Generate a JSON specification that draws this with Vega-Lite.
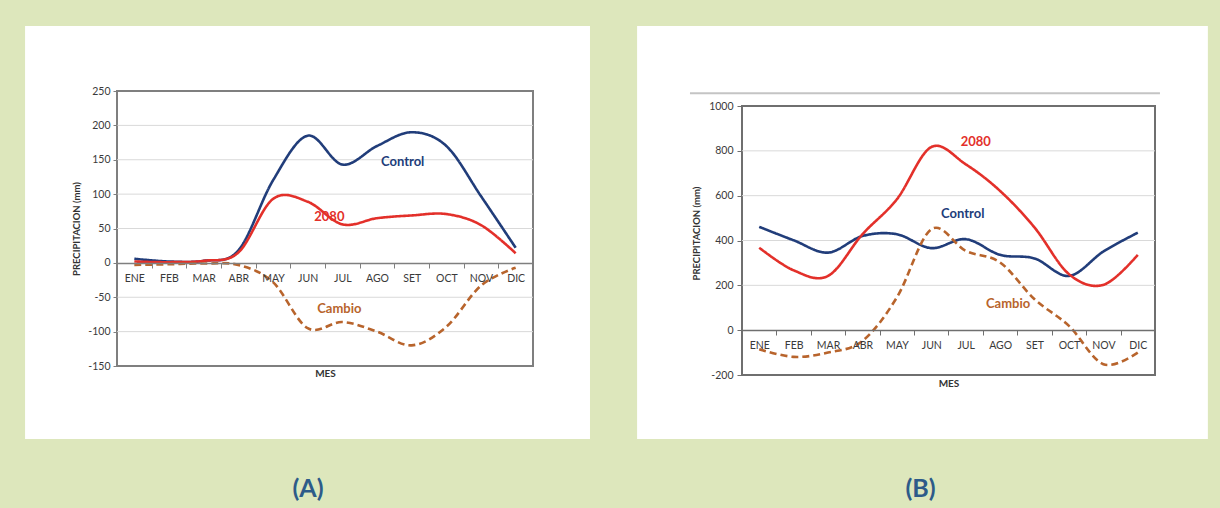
{
  "$schema": "https://vega.github.io/schema/vega-lite/v6.json",
  "background": "#dde7bc",
  "padding": {"left": 25, "top": 25, "right": 12, "bottom": 8},
  "align": "none",
  "bounds": "full",
  "spacing": 47,
  "datasets": {
    "series": [
      {"panel": "A", "mes": "ENE", "serie": "Control", "valor": 6},
      {"panel": "A", "mes": "FEB", "serie": "Control", "valor": 2},
      {"panel": "A", "mes": "MAR", "serie": "Control", "valor": 3},
      {"panel": "A", "mes": "ABR", "serie": "Control", "valor": 18},
      {"panel": "A", "mes": "MAY", "serie": "Control", "valor": 120},
      {"panel": "A", "mes": "JUN", "serie": "Control", "valor": 185},
      {"panel": "A", "mes": "JUL", "serie": "Control", "valor": 143},
      {"panel": "A", "mes": "AGO", "serie": "Control", "valor": 170},
      {"panel": "A", "mes": "SET", "serie": "Control", "valor": 190},
      {"panel": "A", "mes": "OCT", "serie": "Control", "valor": 170},
      {"panel": "A", "mes": "NOV", "serie": "Control", "valor": 97},
      {"panel": "A", "mes": "DIC", "serie": "Control", "valor": 22},
      {"panel": "A", "mes": "ENE", "serie": "2080", "valor": 2},
      {"panel": "A", "mes": "FEB", "serie": "2080", "valor": 1},
      {"panel": "A", "mes": "MAR", "serie": "2080", "valor": 3},
      {"panel": "A", "mes": "ABR", "serie": "2080", "valor": 15},
      {"panel": "A", "mes": "MAY", "serie": "2080", "valor": 93},
      {"panel": "A", "mes": "JUN", "serie": "2080", "valor": 89},
      {"panel": "A", "mes": "JUL", "serie": "2080", "valor": 56},
      {"panel": "A", "mes": "AGO", "serie": "2080", "valor": 65},
      {"panel": "A", "mes": "SET", "serie": "2080", "valor": 69},
      {"panel": "A", "mes": "OCT", "serie": "2080", "valor": 71},
      {"panel": "A", "mes": "NOV", "serie": "2080", "valor": 55},
      {"panel": "A", "mes": "DIC", "serie": "2080", "valor": 14},
      {"panel": "A", "mes": "ENE", "serie": "Cambio", "valor": -3},
      {"panel": "A", "mes": "FEB", "serie": "Cambio", "valor": -2},
      {"panel": "A", "mes": "MAR", "serie": "Cambio", "valor": -1},
      {"panel": "A", "mes": "ABR", "serie": "Cambio", "valor": -3},
      {"panel": "A", "mes": "MAY", "serie": "Cambio", "valor": -28},
      {"panel": "A", "mes": "JUN", "serie": "Cambio", "valor": -95},
      {"panel": "A", "mes": "JUL", "serie": "Cambio", "valor": -86},
      {"panel": "A", "mes": "AGO", "serie": "Cambio", "valor": -100},
      {"panel": "A", "mes": "SET", "serie": "Cambio", "valor": -120},
      {"panel": "A", "mes": "OCT", "serie": "Cambio", "valor": -93},
      {"panel": "A", "mes": "NOV", "serie": "Cambio", "valor": -33},
      {"panel": "A", "mes": "DIC", "serie": "Cambio", "valor": -7},
      {"panel": "B", "mes": "ENE", "serie": "Control", "valor": 461},
      {"panel": "B", "mes": "FEB", "serie": "Control", "valor": 401},
      {"panel": "B", "mes": "MAR", "serie": "Control", "valor": 346},
      {"panel": "B", "mes": "ABR", "serie": "Control", "valor": 420},
      {"panel": "B", "mes": "MAY", "serie": "Control", "valor": 428},
      {"panel": "B", "mes": "JUN", "serie": "Control", "valor": 366},
      {"panel": "B", "mes": "JUL", "serie": "Control", "valor": 406},
      {"panel": "B", "mes": "AGO", "serie": "Control", "valor": 336},
      {"panel": "B", "mes": "SET", "serie": "Control", "valor": 320},
      {"panel": "B", "mes": "OCT", "serie": "Control", "valor": 242},
      {"panel": "B", "mes": "NOV", "serie": "Control", "valor": 351},
      {"panel": "B", "mes": "DIC", "serie": "Control", "valor": 435},
      {"panel": "B", "mes": "ENE", "serie": "2080", "valor": 368},
      {"panel": "B", "mes": "FEB", "serie": "2080", "valor": 267},
      {"panel": "B", "mes": "MAR", "serie": "2080", "valor": 242},
      {"panel": "B", "mes": "ABR", "serie": "2080", "valor": 428},
      {"panel": "B", "mes": "MAY", "serie": "2080", "valor": 584},
      {"panel": "B", "mes": "JUN", "serie": "2080", "valor": 817},
      {"panel": "B", "mes": "JUL", "serie": "2080", "valor": 740},
      {"panel": "B", "mes": "AGO", "serie": "2080", "valor": 621},
      {"panel": "B", "mes": "SET", "serie": "2080", "valor": 458},
      {"panel": "B", "mes": "OCT", "serie": "2080", "valor": 250},
      {"panel": "B", "mes": "NOV", "serie": "2080", "valor": 202},
      {"panel": "B", "mes": "DIC", "serie": "2080", "valor": 336},
      {"panel": "B", "mes": "ENE", "serie": "Cambio", "valor": -85},
      {"panel": "B", "mes": "FEB", "serie": "Cambio", "valor": -119},
      {"panel": "B", "mes": "MAR", "serie": "Cambio", "valor": -100},
      {"panel": "B", "mes": "ABR", "serie": "Cambio", "valor": -48},
      {"panel": "B", "mes": "MAY", "serie": "Cambio", "valor": 146},
      {"panel": "B", "mes": "JUN", "serie": "Cambio", "valor": 450},
      {"panel": "B", "mes": "JUL", "serie": "Cambio", "valor": 354},
      {"panel": "B", "mes": "AGO", "serie": "Cambio", "valor": 302},
      {"panel": "B", "mes": "SET", "serie": "Cambio", "valor": 138},
      {"panel": "B", "mes": "OCT", "serie": "Cambio", "valor": 19},
      {"panel": "B", "mes": "NOV", "serie": "Cambio", "valor": -152},
      {"panel": "B", "mes": "DIC", "serie": "Cambio", "valor": -100}
    ],
    "etiquetas": [
      {"panel": "A", "mes": "SET", "serie": "Control", "valor": 147},
      {"panel": "A", "mes": "JUL", "serie": "2080", "valor": 67},
      {"panel": "A", "mes": "JUL", "serie": "Cambio", "valor": -67},
      {"panel": "B", "mes": "JUL", "serie": "2080", "valor": 839},
      {"panel": "B", "mes": "JUL", "serie": "Control", "valor": 518},
      {"panel": "B", "mes": "AGO", "serie": "Cambio", "valor": 116}
    ],
    "rejillaA": [{"v": -100}, {"v": -50}, {"v": 50}, {"v": 100}, {"v": 150}, {"v": 200}],
    "rejillaB": [{"v": 200}, {"v": 400}, {"v": 600}, {"v": 800}]
  },
  "hconcat": [
    {
      "width": 416,
      "height": 275,
      "title": {"text": "(A)", "orient": "bottom", "anchor": "middle", "frame": "group", "dx": -17, "offset": 38, "fontSize": 25, "font": "Lato", "fontWeight": "bold", "color": "#2d5b89"},
      "resolve": {"scale": {"x": "independent", "y": "independent"}},
      "layer": [
        {
          "data": {"values": [{}]},
          "layer": [
            {
              "mark": {"type": "rect", "fill": "#ffffff", "clip": false},
              "encoding": {
                "x": {"datum": -0.221, "type": "quantitative", "scale": {"domain": [0, 1], "nice": false, "zero": false}, "axis": null},
                "x2": {"datum": 1.137},
                "y": {"datum": -0.265, "type": "quantitative", "scale": {"domain": [0, 1], "nice": false, "zero": false}, "axis": null},
                "y2": {"datum": 1.236}
              }
            },
            {
              "mark": {"type": "rect", "fill": "#ffffff", "fillOpacity": 0, "stroke": "#7f7f7f", "strokeWidth": 2, "clip": false},
              "encoding": {
                "x": {"datum": 0, "type": "quantitative", "scale": {"domain": [0, 1], "nice": false, "zero": false}, "axis": null},
                "x2": {"datum": 1},
                "y": {"datum": 0, "type": "quantitative", "scale": {"domain": [0, 1], "nice": false, "zero": false}, "axis": null},
                "y2": {"datum": 1}
              }
            }
          ]
        },
        {
          "layer": [
            {
              "data": {"name": "rejillaA"},
              "mark": {"type": "rule", "color": "#d9d9d9", "strokeWidth": 1},
              "encoding": {
                "y": {"field": "v", "type": "quantitative", "scale": {"domain": [-150, 250], "nice": false, "zero": false},
                  "axis": {"orient": "left", "values": [-150, -100, -50, 0, 50, 100, 150, 200, 250], "tickCount": 20, "labelExpr": "'' + datum.value", "labelOverlap": false, "grid": false, "domain": false, "ticks": true, "tickSize": 4, "tickColor": "#7f7f7f", "labelPadding": 3, "title": "PRECIPITACION (mm)", "titlePadding": 6, "zindex": 1}}
              }
            },
            {
              "data": {"name": "series"},
              "transform": [{"filter": "datum.panel == 'A'"}],
              "mark": {"type": "line", "interpolate": "cardinal", "strokeWidth": 2.6},
              "encoding": {
                "x": {"field": "mes", "type": "nominal", "bandPosition": 0.5,
                  "scale": {"type": "band", "domain": ["ENE","FEB","MAR","ABR","MAY","JUN","JUL","AGO","SET","OCT","NOV","DIC"], "paddingInner": 0, "paddingOuter": 0},
                  "axis": {"orient": "bottom", "offset": -103, "tickBand": "extent", "domain": true, "domainColor": "#7f7f7f", "domainWidth": 1.5, "ticks": true, "tickColor": "#7f7f7f", "tickSize": 5, "labelPadding": 5, "labelAngle": 0, "labelOverlap": false, "grid": false, "title": "MES", "titlePadding": 85, "zindex": 1}},
                "y": {"field": "valor", "type": "quantitative", "scale": {"domain": [-150, 250], "nice": false, "zero": false},
                  "axis": {"orient": "left", "values": [-150, -100, -50, 0, 50, 100, 150, 200, 250], "tickCount": 20, "labelExpr": "'' + datum.value", "labelOverlap": false, "grid": false, "domain": false, "ticks": true, "tickSize": 4, "tickColor": "#7f7f7f", "labelPadding": 3, "title": "PRECIPITACION (mm)", "titlePadding": 6, "zindex": 1}},
                "color": {"field": "serie", "type": "nominal", "scale": {"domain": ["Control", "2080", "Cambio"], "range": ["#213d7a", "#e3302a", "#b8642c"]}, "legend": null},
                "strokeDash": {"field": "serie", "type": "nominal", "scale": {"domain": ["Control", "2080", "Cambio"], "range": [[1, 0], [1, 0], [7, 4]]}, "legend": null}
              }
            },
            {
              "data": {"name": "etiquetas"},
              "transform": [{"filter": "datum.panel == 'A' && datum.serie == 'Control'"}],
              "mark": {"type": "text", "dx": -9, "font": "Lato", "fontWeight": "bold", "fontSize": 13},
              "encoding": {
                "x": {"field": "mes", "type": "nominal", "bandPosition": 0.5, "scale": {"type": "band", "domain": ["ENE","FEB","MAR","ABR","MAY","JUN","JUL","AGO","SET","OCT","NOV","DIC"], "paddingInner": 0, "paddingOuter": 0}},
                "y": {"field": "valor", "type": "quantitative", "scale": {"domain": [-150, 250], "nice": false, "zero": false}},
                "text": {"field": "serie"},
                "color": {"field": "serie", "type": "nominal", "scale": {"domain": ["Control", "2080", "Cambio"], "range": ["#213d7a", "#e3302a", "#b8642c"]}, "legend": null}
              }
            },
            {
              "data": {"name": "etiquetas"},
              "transform": [{"filter": "datum.panel == 'A' && datum.serie == '2080'"}],
              "mark": {"type": "text", "dx": -13, "font": "Lato", "fontWeight": "bold", "fontSize": 13},
              "encoding": {
                "x": {"field": "mes", "type": "nominal", "bandPosition": 0.5, "scale": {"type": "band", "domain": ["ENE","FEB","MAR","ABR","MAY","JUN","JUL","AGO","SET","OCT","NOV","DIC"], "paddingInner": 0, "paddingOuter": 0}},
                "y": {"field": "valor", "type": "quantitative", "scale": {"domain": [-150, 250], "nice": false, "zero": false}},
                "text": {"field": "serie"},
                "color": {"field": "serie", "type": "nominal", "scale": {"domain": ["Control", "2080", "Cambio"], "range": ["#213d7a", "#e3302a", "#b8642c"]}, "legend": null}
              }
            },
            {
              "data": {"name": "etiquetas"},
              "transform": [{"filter": "datum.panel == 'A' && datum.serie == 'Cambio'"}],
              "mark": {"type": "text", "dx": -3, "font": "Lato", "fontWeight": "bold", "fontSize": 13},
              "encoding": {
                "x": {"field": "mes", "type": "nominal", "bandPosition": 0.5, "scale": {"type": "band", "domain": ["ENE","FEB","MAR","ABR","MAY","JUN","JUL","AGO","SET","OCT","NOV","DIC"], "paddingInner": 0, "paddingOuter": 0}},
                "y": {"field": "valor", "type": "quantitative", "scale": {"domain": [-150, 250], "nice": false, "zero": false}},
                "text": {"field": "serie"},
                "color": {"field": "serie", "type": "nominal", "scale": {"domain": ["Control", "2080", "Cambio"], "range": ["#213d7a", "#e3302a", "#b8642c"]}, "legend": null}
              }
            }
          ]
        }
      ]
    },
    {
      "width": 413,
      "height": 284,
      "title": {"text": "(B)", "orient": "bottom", "anchor": "middle", "frame": "group", "dx": -28, "offset": 38, "fontSize": 25, "font": "Lato", "fontWeight": "bold", "color": "#2d5b89"},
      "resolve": {"scale": {"x": "independent", "y": "independent"}},
      "layer": [
        {
          "data": {"values": [{}]},
          "layer": [
            {
              "mark": {"type": "rect", "fill": "#ffffff", "clip": false},
              "encoding": {
                "x": {"datum": -0.254, "type": "quantitative", "scale": {"domain": [0, 1], "nice": false, "zero": false}, "axis": null},
                "x2": {"datum": 1.128},
                "y": {"datum": -0.2254, "type": "quantitative", "scale": {"domain": [0, 1], "nice": false, "zero": false}, "axis": null},
                "y2": {"datum": 1.2289}
              }
            },
            {
              "mark": {"type": "rule", "color": "#c4c4c4", "strokeWidth": 2, "clip": false},
              "encoding": {
                "x": {"datum": -0.126, "type": "quantitative", "scale": {"domain": [0, 1], "nice": false, "zero": false}, "axis": null},
                "x2": {"datum": 1.012},
                "y": {"datum": 0.992, "type": "quantitative", "scale": {"domain": [0, 1], "nice": false, "zero": false}, "axis": null}
              }
            },
            {
              "mark": {"type": "rect", "fill": "#ffffff", "fillOpacity": 0, "stroke": "#6f6f6f", "strokeWidth": 2, "clip": false},
              "encoding": {
                "x": {"datum": 0, "type": "quantitative", "scale": {"domain": [0, 1], "nice": false, "zero": false}, "axis": null},
                "x2": {"datum": 1},
                "y": {"datum": 0, "type": "quantitative", "scale": {"domain": [0, 1], "nice": false, "zero": false}, "axis": null},
                "y2": {"datum": 0.9472}
              }
            }
          ]
        },
        {
          "layer": [
            {
              "data": {"name": "rejillaB"},
              "mark": {"type": "rule", "color": "#d9d9d9", "strokeWidth": 1},
              "encoding": {
                "y": {"field": "v", "type": "quantitative", "scale": {"domain": [-200, 1067], "nice": false, "zero": false},
                  "axis": {"orient": "left", "values": [-200, 0, 200, 400, 600, 800, 1000], "tickCount": 20, "labelExpr": "'' + datum.value", "labelOverlap": false, "grid": false, "domain": false, "ticks": true, "tickSize": 5, "tickColor": "#6f6f6f", "labelPadding": 4, "title": "PRECIPITACION (mm)", "titlePadding": 7, "zindex": 1}}
              }
            },
            {
              "data": {"name": "series"},
              "transform": [{"filter": "datum.panel == 'B'"}],
              "mark": {"type": "line", "interpolate": "cardinal", "strokeWidth": 2.6},
              "encoding": {
                "x": {"field": "mes", "type": "nominal", "bandPosition": 0.5,
                  "scale": {"type": "band", "domain": ["ENE","FEB","MAR","ABR","MAY","JUN","JUL","AGO","SET","OCT","NOV","DIC"], "paddingInner": 0, "paddingOuter": 0},
                  "axis": {"orient": "bottom", "offset": -45, "tickBand": "extent", "domain": true, "domainColor": "#6f6f6f", "domainWidth": 1.5, "ticks": true, "tickColor": "#6f6f6f", "tickSize": 5, "labelPadding": 5, "labelAngle": 0, "labelOverlap": false, "grid": false, "title": "MES", "titlePadding": 28, "zindex": 1}},
                "y": {"field": "valor", "type": "quantitative", "scale": {"domain": [-200, 1067], "nice": false, "zero": false},
                  "axis": {"orient": "left", "values": [-200, 0, 200, 400, 600, 800, 1000], "tickCount": 20, "labelExpr": "'' + datum.value", "labelOverlap": false, "grid": false, "domain": false, "ticks": true, "tickSize": 5, "tickColor": "#6f6f6f", "labelPadding": 4, "title": "PRECIPITACION (mm)", "titlePadding": 7, "zindex": 1}},
                "color": {"field": "serie", "type": "nominal", "scale": {"domain": ["Control", "2080", "Cambio"], "range": ["#213d7a", "#e3302a", "#b8642c"]}, "legend": null},
                "strokeDash": {"field": "serie", "type": "nominal", "scale": {"domain": ["Control", "2080", "Cambio"], "range": [[1, 0], [1, 0], [7, 4]]}, "legend": null}
              }
            },
            {
              "data": {"name": "etiquetas"},
              "transform": [{"filter": "datum.panel == 'B' && datum.serie == '2080'"}],
              "mark": {"type": "text", "dx": 10, "font": "Lato", "fontWeight": "bold", "fontSize": 13},
              "encoding": {
                "x": {"field": "mes", "type": "nominal", "bandPosition": 0.5, "scale": {"type": "band", "domain": ["ENE","FEB","MAR","ABR","MAY","JUN","JUL","AGO","SET","OCT","NOV","DIC"], "paddingInner": 0, "paddingOuter": 0}},
                "y": {"field": "valor", "type": "quantitative", "scale": {"domain": [-200, 1067], "nice": false, "zero": false}},
                "text": {"field": "serie"},
                "color": {"field": "serie", "type": "nominal", "scale": {"domain": ["Control", "2080", "Cambio"], "range": ["#213d7a", "#e3302a", "#b8642c"]}, "legend": null}
              }
            },
            {
              "data": {"name": "etiquetas"},
              "transform": [{"filter": "datum.panel == 'B' && datum.serie == 'Control'"}],
              "mark": {"type": "text", "dx": -3, "font": "Lato", "fontWeight": "bold", "fontSize": 13},
              "encoding": {
                "x": {"field": "mes", "type": "nominal", "bandPosition": 0.5, "scale": {"type": "band", "domain": ["ENE","FEB","MAR","ABR","MAY","JUN","JUL","AGO","SET","OCT","NOV","DIC"], "paddingInner": 0, "paddingOuter": 0}},
                "y": {"field": "valor", "type": "quantitative", "scale": {"domain": [-200, 1067], "nice": false, "zero": false}},
                "text": {"field": "serie"},
                "color": {"field": "serie", "type": "nominal", "scale": {"domain": ["Control", "2080", "Cambio"], "range": ["#213d7a", "#e3302a", "#b8642c"]}, "legend": null}
              }
            },
            {
              "data": {"name": "etiquetas"},
              "transform": [{"filter": "datum.panel == 'B' && datum.serie == 'Cambio'"}],
              "mark": {"type": "text", "dx": 8, "font": "Lato", "fontWeight": "bold", "fontSize": 13},
              "encoding": {
                "x": {"field": "mes", "type": "nominal", "bandPosition": 0.5, "scale": {"type": "band", "domain": ["ENE","FEB","MAR","ABR","MAY","JUN","JUL","AGO","SET","OCT","NOV","DIC"], "paddingInner": 0, "paddingOuter": 0}},
                "y": {"field": "valor", "type": "quantitative", "scale": {"domain": [-200, 1067], "nice": false, "zero": false}},
                "text": {"field": "serie"},
                "color": {"field": "serie", "type": "nominal", "scale": {"domain": ["Control", "2080", "Cambio"], "range": ["#213d7a", "#e3302a", "#b8642c"]}, "legend": null}
              }
            }
          ]
        }
      ]
    }
  ],
  "config": {
    "view": {"stroke": null},
    "axis": {"labelFont": "Lato", "labelFontSize": 10.5, "labelColor": "#3a3a3a", "titleFont": "Lato", "titleFontSize": 10, "titleFontWeight": "bold", "titleColor": "#333333", "labelOverlap": false},
    "axisY": {"titleFontSize": 9.5}
  }
}
